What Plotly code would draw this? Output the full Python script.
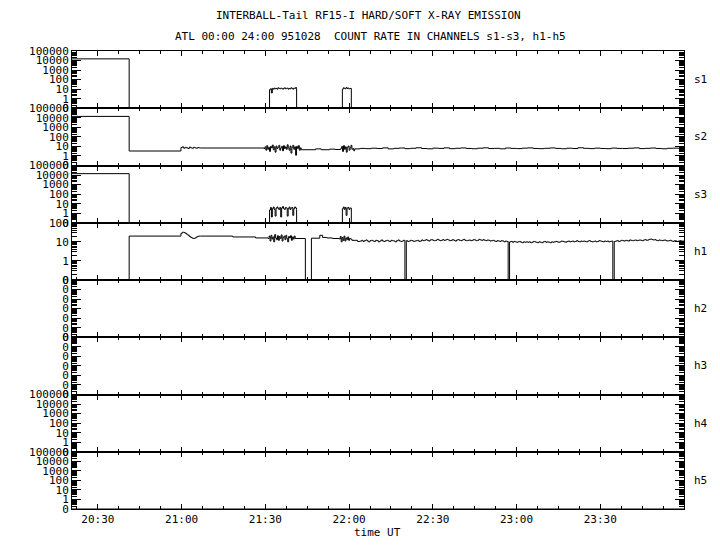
import plotly.graph_objects as go
from plotly.subplots import make_subplots
from datetime import datetime, timedelta

# ---------------- data ----------------
DAY = datetime(1995, 10, 28)
T_START = "20:20:43"
T_END = "24:00:00"

channels = ["s1", "s2", "s3", "h1", "h2", "h3", "h4", "h5"]

# tick labels
xtick_labels = ["20:30", "21:00", "21:30", "22:00", "22:30", "23:00", "23:30"]
log_tickvals = [0.1, 1, 10, 100, 1000, 10000, 100000]
log_ticktext = ["0", "1", "10", "100", "1000", "10000", "100000"]
h1_tickvals = [0.1, 1, 10, 100]
h1_ticktext = ["0", "1", "10", "100"]
zero_ticktext = ["0", "0", "0", "0", "0", "0", "0"]

# noisy stretches (count rates), sampled at fixed steps
s1_burst_a = [9, 11, 4, 12, 10, 13, 11, 12, 10, 14, 12, 11, 13, 12, 10,
              12, 14, 11, 12, 13, 10, 12, 11, 14, 12, 10, 13, 12, 15, 11]
s1_burst_b = [10, 14, 12, 11, 15, 12, 13, 11, 12]

s3_burst_a = [2.2, 4, 0.4, 3, 4.5, 2.5, 0.5, 3.5, 4.5, 3, 2.5, 4, 0.4, 3.5, 5,
              3, 2.5, 4, 3.5, 0.5, 3, 4.5, 2.5, 3.5, 4, 0.6, 3, 4.5, 3.5, 2.5]
s3_burst_b = [3, 4.5, 2.5, 4, 0.6, 3.5, 4, 2.5, 3.5]

s2_noise_2100 = [7.5, 9, 6.5, 8, 7, 6, 8.5, 7, 6.5, 8, 7, 6.5, 7.5, 7]
s2_noise_2130 = [6, 9, 4, 12, 5, 8, 3, 10, 7, 14, 4.5, 9, 2.5, 11, 6, 8, 13, 4, 7, 10,
                 3.5, 12, 6, 9, 5, 15, 7, 4, 11, 2, 8, 13, 5, 9, 1.2, 10, 6, 12, 4, 7]
s2_noise_2157 = [6, 10, 3, 12, 5, 9, 2.5, 8, 11, 4, 7, 13, 5, 6, 3.5]
s2_late = [5.5, 6.2, 5.8, 6.5, 6, 7, 5.5, 6.3, 6.8, 5.8, 6.4, 7.2, 6, 5.6, 6.6,
           6.2, 7, 5.8, 6.4, 6.9, 6.1, 5.7, 6.5, 7.1, 6, 6.3, 5.6, 6.8, 6.2, 5.9,
           6.6, 7, 6.1, 5.8, 6.4, 6.9, 6.2, 5.7, 6.5, 6, 7.2, 6.3, 5.9, 6.6, 6.1,
           5.8, 6.7, 6.2, 6, 6.5, 7, 5.9, 6.3, 6.8, 6.1, 5.7, 6.4, 6.6, 6.2]

h1_bump_2100 = [28, 32, 31, 28, 25, 22, 19, 17, 15.5, 15, 16, 18, 19.5, 20]
h1_noise_2131 = [15, 20, 11, 22, 14, 18, 10, 24, 16, 13, 21, 12, 19, 15, 23,
                 11, 17, 20, 13, 22, 15, 10, 19, 16, 21, 12, 18, 14, 20, 15]
h1_noise_2156 = [14, 19, 10, 17, 12, 20, 11, 16, 13, 18, 12, 15, 14]
h1_late = [
    11, 12, 10.5, 11.5, 12.5, 11, 10, 11.5, 12, 11, 10.5, 12, 11.5, 10, 11, 12.5, 11, 10.5, 11.5, 12,
    11, 10.5, 12, 11.5, 11, 10, 11.5, 12.5, 11, 10.5, 11, 12, 0, 11.5, 10.5, 11, 12, 11.5, 10.5, 11,
    11.5, 12, 10.5, 11, 12.5, 11.5, 12, 13, 12, 11, 12.5, 13, 12, 11.5, 12, 13.5, 12.5, 11.5, 12, 13,
    12, 12.5, 13.5, 12.5, 11.5, 12, 13, 12, 11, 12.5, 13, 12, 11.5, 12.5, 13.5, 12, 11.5, 12, 12.5, 11.5,
    12, 13, 12.5, 11.5, 12, 13.5, 12.5, 12, 13, 12, 11.5, 12.5, 12, 11, 11.5, 12, 11, 10.5, 11.5, 11,
    10.5, 11.5, 11, 10, 11, 10.5, 0, 10, 10.5, 9.5, 10.5, 10, 9.5, 10, 10.5, 9.5, 9, 10, 9.5, 10,
    9.5, 10, 9, 9.5, 10.5, 10, 9.5, 9, 10, 9.5, 9, 10, 10.5, 9.5, 10, 9.5, 9, 10, 9.5, 10,
    10.5, 10, 9.5, 10, 11, 10.5, 10, 9.5, 10.5, 11, 10, 10.5, 11, 10, 10.5, 11.5, 10.5, 10, 11, 10.5,
    11, 10.5, 10, 11, 11.5, 10.5, 10, 10.5, 11, 10, 10.5, 11.5, 11, 10.5, 10, 11, 10.5, 11, 10, 10.5,
    11, 0, 10.5, 11, 11.5, 10.5, 11, 12, 11.5, 11, 12, 11.5, 11, 12.5, 12, 11.5, 12, 12.5, 11.5, 12,
    12.5, 12, 11.5, 12.5, 13, 12, 12.5, 13.5, 14, 13, 12.5, 13, 12, 11.5, 12.5, 12, 11.5, 12, 12.5, 11.5,
    11, 11.5, 12, 11, 10.5, 11.5, 11, 10.5, 11, 11.5, 11, 11]

# segments: (start time, sample step in seconds, values)
s1_segments = [("20:20:43", 0, [15000]), ("20:41:12", 0, [0]),
               ("21:31:30", 20, s1_burst_a), ("21:41:12", 0, [0]),
               ("21:57:36", 20, s1_burst_b), ("22:00:48", 0, [0])]
s2_segments = [("20:20:43", 0, [14000]), ("20:41:12", 0, [3.3]),
               ("20:59:45", 30, s2_noise_2100), ("21:06:45", 0, [6.8]),
               ("21:29:30", 20, s2_noise_2130), ("21:42:50", 0, [4.5]),
               ("21:48:00", 0, [5.5]), ("21:50:00", 0, [4.5]), ("21:53:00", 0, [5.2]),
               ("21:55:00", 0, [4.8]), ("21:57:00", 20, s2_noise_2157),
               ("22:02:00", 120, s2_late)]
s3_segments = [("20:20:43", 0, [14000]), ("20:41:12", 0, [0]),
               ("21:31:30", 20, s3_burst_a), ("21:41:12", 0, [0]),
               ("21:57:36", 20, s3_burst_b), ("22:00:48", 0, [0])]
h1_segments = [("20:20:43", 0, [0]), ("20:41:12", 0, [20]),
               ("20:59:45", 30, h1_bump_2100), ("21:06:45", 0, [20]),
               ("21:18:20", 0, [18]), ("21:26:30", 0, [16]),
               ("21:31:00", 20, h1_noise_2131), ("21:41:00", 0, [15]),
               ("21:44:20", 0, [0]), ("21:46:30", 0, [15.5]), ("21:49:30", 0, [22]),
               ("21:50:30", 0, [17]), ("21:52:00", 0, [16]), ("21:54:00", 0, [15]),
               ("21:56:30", 20, h1_noise_2156), ("22:01:00", 0, [12]),
               ("22:03:00", 0, [10.5]), ("22:04:00", 30, h1_late)]
zero_segments = [("20:20:43", 0, [0])]

channel_segments = {"s1": s1_segments, "s2": s2_segments, "s3": s3_segments,
                    "h1": h1_segments, "h2": zero_segments, "h3": zero_segments,
                    "h4": zero_segments, "h5": zero_segments}

# ---------------- helpers ----------------
def ts(hms):
    parts = [int(p) for p in hms.split(":")]
    while len(parts) < 3:
        parts.append(0)
    h, m, s = parts
    return DAY + timedelta(hours=h, minutes=m, seconds=s)

ZERO_FLOOR = 0.1  # the "0" row of the log axes

def build(segments):
    xs, ys = [], []
    for start, step, vals in segments:
        t0 = ts(start)
        for i, v in enumerate(vals):
            xs.append(t0 + timedelta(seconds=step * i))
            ys.append(max(v, ZERO_FLOOR))
    xs.append(ts(T_END))
    ys.append(ys[-1])
    return xs, ys

# ---------------- figure ----------------
FONT = "DejaVu Sans Mono"
fig = make_subplots(rows=8, cols=1, shared_xaxes=True, vertical_spacing=0)

for r, ch in enumerate(channels, start=1):
    xs, ys = build(channel_segments[ch])
    fig.add_trace(go.Scatter(x=xs, y=ys, mode="lines", line_shape="hv",
                             line=dict(color="black", width=1),
                             showlegend=False, hoverinfo="skip"), row=r, col=1)

    if ch == "h1":
        tv, tt, rng = h1_tickvals, h1_ticktext, [-1, 2]
    elif ch in ("h2", "h3"):
        tv, tt, rng = log_tickvals, zero_ticktext, [-1, 5]
    else:
        tv, tt, rng = log_tickvals, log_ticktext, [-1, 5]
    minor_vals = [m * 10 ** k for k in range(rng[0], rng[1]) for m in range(2, 10)]
    fig.update_yaxes(type="log", range=rng, tickmode="array", tickvals=tv, ticktext=tt,
                     ticks="inside", ticklen=9, tickwidth=1, tickcolor="black",
                     minor=dict(tickmode="array", tickvals=minor_vals, ticks="inside",
                                ticklen=5, tickwidth=1, tickcolor="black", showgrid=False),
                     showline=True, linecolor="black", linewidth=1, mirror="allticks",
                     showgrid=False, zeroline=False, automargin=False,
                     tickfont=dict(family=FONT, size=11, color="black"),
                     ticklabelstandoff=0,
                     row=r, col=1)

fig.update_xaxes(type="date", range=[ts(T_START), ts(T_END)],
                 tickmode="array", tickvals=[ts(t) for t in xtick_labels],
                 ticktext=xtick_labels, ticks="inside", ticklen=5, tickwidth=1,
                 tickcolor="black",
                 minor=dict(dtick=450000, tick0=ts(xtick_labels[0]), ticks="inside",
                            ticklen=3, tickwidth=1, tickcolor="black", showgrid=False),
                 showline=True, linecolor="black", linewidth=1, mirror="allticks",
                 showgrid=False, zeroline=False, automargin=False,
                 tickfont=dict(family=FONT, size=11, color="black"))

annotations = [
    dict(text="INTERBALL-Tail RF15-I HARD/SOFT X-RAY EMISSION", x=368, y=15),
    dict(text="ATL 00:00 24:00 951028\u00a0\u00a0COUNT RATE IN CHANNELS s1-s3, h1-h5", x=370, y=36),
    dict(text="time UT", x=377, y=532),
]
anns = []
for a in annotations:
    anns.append(dict(text=a["text"], xref="paper", yref="paper",
                     x=(a["x"] - 72) / 612, y=1 - (a["y"] - 51) / 458,
                     xanchor="center", yanchor="middle", showarrow=False,
                     font=dict(family=FONT, size=11, color="black")))
for i, ch in enumerate(channels):
    ymid = 1 - (i + 0.5) / 8
    anns.append(dict(text=ch, xref="paper", yref="paper", x=(692 - 72) / 612, y=ymid,
                     xanchor="left", yanchor="middle", showarrow=False,
                     font=dict(family=FONT, size=11, color="black")))

fig.update_layout(width=720, height=550, margin=dict(l=72, r=36, t=51, b=41),
                  paper_bgcolor="white", plot_bgcolor="white", annotations=anns,
                  showlegend=False)

fig.write_html("out.html", config={"displayModeBar": False},
               post_script="document.body.style.margin='0';document.body.style.overflow='hidden';")
